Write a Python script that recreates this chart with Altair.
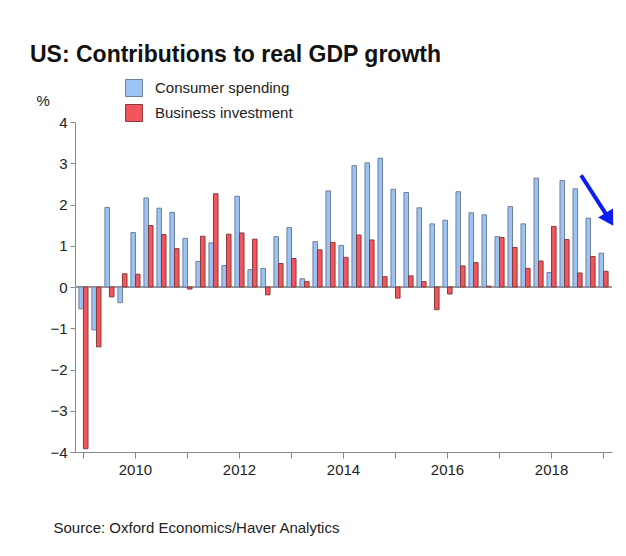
import altair as alt
import pandas as pd

years = list(range(2009, 2020))
quarters = [f"{y} Q{q}" for y in years for q in range(1, 5)][:41]

consumer = [-0.53, -1.04, 1.93, -0.38,
            1.32, 2.16, 1.91, 1.81,
            1.18, 0.62, 1.07, 0.52,
            2.20, 0.42, 0.45, 1.22,
            1.44, 0.20, 1.10, 2.33,
            1.01, 2.94, 3.01, 3.12,
            2.37, 2.29, 1.92, 1.53,
            1.62, 2.31, 1.80, 1.75,
            1.22, 1.95, 1.53, 2.64,
            0.35, 2.58, 2.38, 1.67,
            0.82]
business = [-3.92, -1.45, -0.24, 0.32,
            0.31, 1.49, 1.27, 0.93,
            -0.05, 1.23, 2.26, 1.28,
            1.31, 1.16, -0.19, 0.57,
            0.69, 0.13, 0.90, 1.08,
            0.72, 1.26, 1.14, 0.25,
            -0.27, 0.27, 0.13, -0.55,
            -0.17, 0.51, 0.59, 0.02,
            1.20, 0.96, 0.45, 0.63,
            1.47, 1.15, 0.34, 0.74,
            0.38]

series_names = ["Consumer spending", "Business investment"]
fill_colors = ["#9cc2f6", "#f2555b"]
stroke_colors = ["#6f7f96", "#8a3a3a"]
year_ticks = [f"{y} Q1" for y in years]
y_ticks = [-4, -3, -2, -1, 0, 1, 2, 3, 4]

# annotation arrow (in quarter-index units and % units)
arrow_x = [38.27, 40.45]
arrow_y = [2.71, 1.64]

rows = []
for i, q in enumerate(quarters):
    rows.append({"quarter": q, "series": series_names[0], "value": consumer[i]})
    rows.append({"quarter": q, "series": series_names[1], "value": business[i]})
df = pd.DataFrame(rows)

FONT = "Liberation Sans"

legend = alt.Legend(
    title=None, orient="none", legendX=50, legendY=-43,
    symbolType="square", symbolSize=289, symbolStrokeWidth=1,
    labelFontSize=15, labelFont=FONT, labelColor="#222",
    rowPadding=3, labelOffset=12,
)

base = alt.Chart(df)

zero = base.mark_rule(color="#999999", strokeWidth=1).encode(y=alt.datum(0))

bars = base.mark_bar(strokeWidth=1).encode(
    x=alt.X(
        "quarter:O", sort=quarters,
        scale=alt.Scale(paddingInner=0.3, paddingOuter=0.3),
        axis=alt.Axis(
            values=year_ticks, labelAngle=0,
            labelExpr="toNumber(substring(datum.value,0,4)) % 2 == 0 ? substring(datum.value,0,4) : ''",
            title="Source: Oxford Economics/Haver Analytics",
            titleFont=FONT, titleFontSize=15, titleFontWeight="normal", titleColor="#222",
            titleAnchor="start", titleAlign="left", titleX=-22, titleY=75, titleBaseline="middle",
            labelFont=FONT, labelFontSize=15, labelColor="#222", labelPadding=4,
            tickSize=6, tickColor="#888", domainColor="#888",
        ),
    ),
    xOffset=alt.XOffset("series:N", scale=alt.Scale(domain=series_names, paddingInner=0, paddingOuter=0)),
    y=alt.Y(
        "value:Q",
        scale=alt.Scale(domain=[-4, 4], nice=False),
        axis=alt.Axis(
            values=y_ticks, grid=False, title="%",
            titleAngle=0, titleAlign="left", titleX=-39, titleY=-22, titleBaseline="middle",
            titleFont=FONT, titleFontSize=15, titleFontWeight="normal", titleColor="#222",
            labelFont=FONT, labelFontSize=15, labelColor="#222", labelPadding=3,
            tickSize=5, tickColor="#888", domainColor="#888",
        ),
    ),
    fill=alt.Fill("series:N", scale=alt.Scale(domain=series_names, range=fill_colors), legend=legend),
    stroke=alt.Stroke("series:N", scale=alt.Scale(domain=series_names, range=stroke_colors), legend=legend),
)

arrow_df = pd.DataFrame({"x": arrow_x, "y": arrow_y})
ax = alt.X("x:Q", scale=alt.Scale(domain=[-0.65, 40.65], nice=False, zero=False), axis=None)
ay = alt.Y("y:Q", scale=alt.Scale(domain=[-4, 4], nice=False), axis=None)
shaft = alt.Chart(arrow_df).mark_line(color="#0a1ef0", strokeWidth=4).encode(x=ax, y=ay)
head = alt.Chart(arrow_df.tail(1)).mark_point(
    shape="triangle-up", angle=149, size=300, filled=True, color="#0a1ef0", opacity=1
).encode(x=ax, y=ay)

chart = alt.layer(
    alt.layer(zero, bars),
    alt.layer(shaft, head),
).resolve_scale(x="independent", y="independent").properties(
    width=537, height=330,
    background="white",
    autosize=alt.AutoSizeParams(type="none"),
    padding={"left": 67, "top": 114, "right": 6, "bottom": 96},
    title=alt.TitleParams(
        text="US: Contributions to real GDP growth", anchor="start", frame="group",
        dx=-45, font=FONT, fontSize=23, fontWeight="bold", color="#111", offset=12,
    ),
).configure_view(stroke=None, strokeWidth=0)

chart.save("out.html", embed_options={"renderer": "svg", "actions": False})
